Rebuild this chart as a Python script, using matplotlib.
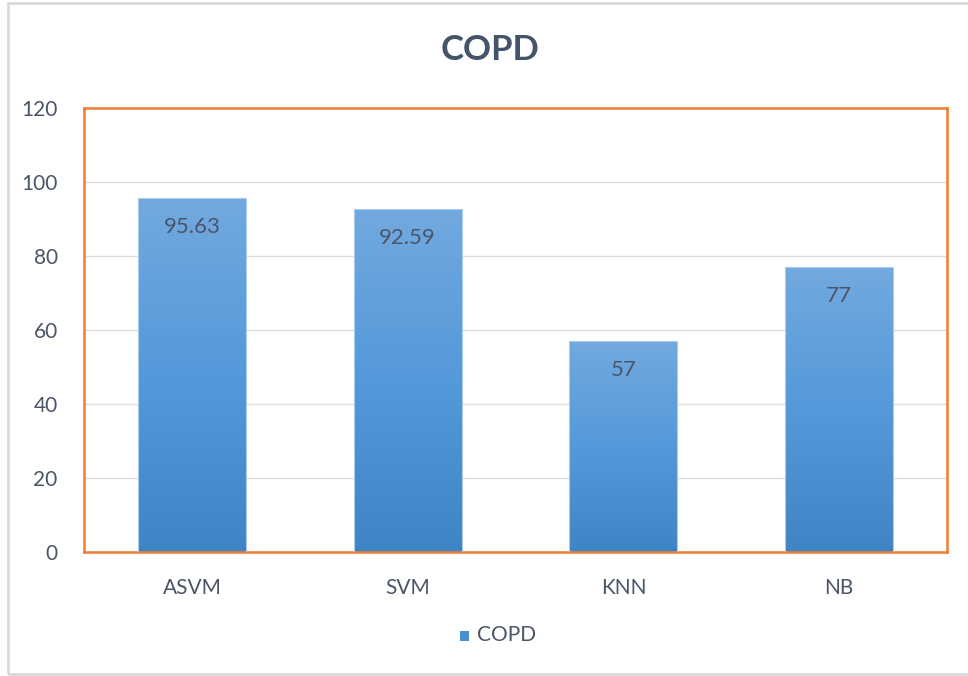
import matplotlib.pyplot as plt
import numpy as np
from matplotlib.colors import LinearSegmentedColormap
from matplotlib.patches import Rectangle

models = ['ASVM', 'SVM', 'KNN', 'NB']
copd = [95.63, 92.59, 57, 77]
value_labels = ['95.63', '92.59', '57', '77']

plt.rcParams['font.family'] = ['Lato', 'DejaVu Sans']
text_color = '#4A5568'

fig = plt.figure(figsize=(9.68, 6.76), dpi=100)
ax = fig.add_axes([0.0868, 0.1834, 0.8915, 0.6568])

# vertical blue gradient, light at top, darker at the bottom
cmap = LinearSegmentedColormap.from_list('bluegrad', ['#3F85C6', '#5499DA', '#72A9DF'])
grad = np.linspace(0, 1, 256).reshape(-1, 1)

x = np.arange(len(models))
bars = ax.bar(x, copd, width=0.5, facecolor='none', edgecolor='#A8CBEE', linewidth=0.8, zorder=3)
for b in bars:
    im = ax.imshow(grad, cmap=cmap, aspect='auto', origin='lower',
                   extent=[b.get_x(), b.get_x() + b.get_width(), 0, b.get_height()], zorder=2)
    im.set_clip_path(b)

for xi, v, lab in zip(x, copd, value_labels):
    ax.annotate(lab, (xi, v), xytext=(0, -20.5), textcoords='offset points',
                ha='center', va='center', fontsize=16, color=text_color, zorder=4)

ax.set_xlim(-0.5, 3.5)
ax.set_ylim(0, 120)
ax.set_yticks(range(0, 121, 20))
ax.set_xticks(x)
ax.set_xticklabels(models)
ax.tick_params(axis='both', length=0, labelsize=15, colors=text_color)
ax.tick_params(axis='y', pad=19)
ax.tick_params(axis='x', pad=19)
ax.grid(axis='y', color='#DDDDDD', linewidth=1, zorder=0)
ax.set_axisbelow(True)
for s in ax.spines.values():
    s.set_color('#ED7D31')
    s.set_linewidth(1.8)

fig.text(0.506, 0.926, 'COPD', ha='center', va='center', fontsize=25,
         fontweight='bold', color='#44546A')

# legend entry
fig.patches.append(Rectangle((0.4755, 0.0525), 0.0095, 0.0135, transform=fig.transFigure,
                             facecolor='#4A8ED0', edgecolor='none'))
fig.text(0.493, 0.060, 'COPD', ha='left', va='center', fontsize=15, color=text_color)

# chart border
fig.patches.append(Rectangle((0.008, 0.003), 1.0, 0.992, transform=fig.transFigure,
                             facecolor='none', edgecolor='#D9D9D9', linewidth=2))

fig.savefig('out.png', dpi=100)
